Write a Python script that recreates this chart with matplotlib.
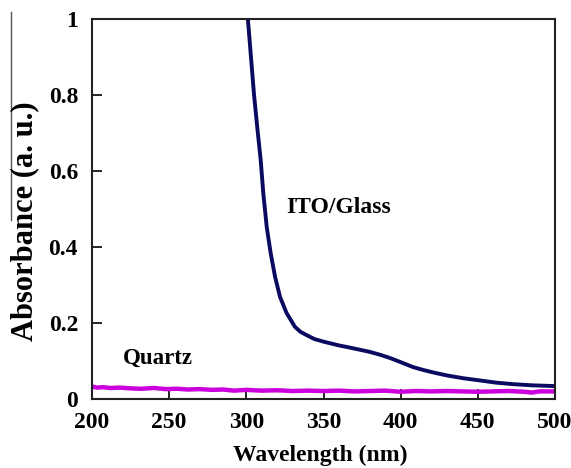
import matplotlib
matplotlib.use("Agg")
import matplotlib.pyplot as plt
from matplotlib.lines import Line2D

# ITO/Glass absorbance
ito_wl = [301, 303, 305, 307.2, 309.3, 311.0, 313.2, 315.8, 318.6, 321.8,
          326.1, 331.5, 335, 339.1, 344, 349.9, 355, 360, 365, 372, 380, 387,
          393, 400, 408, 415, 422, 430, 440, 451, 462, 473, 485, 500]
ito_abs = [1.0, 0.9, 0.8, 0.71, 0.629, 0.541, 0.453, 0.383, 0.322, 0.269,
           0.226, 0.190, 0.177, 0.168, 0.158, 0.151, 0.146, 0.141, 0.137,
           0.131, 0.124, 0.116, 0.108, 0.097, 0.084, 0.076, 0.069, 0.062,
           0.055, 0.049, 0.043, 0.039, 0.036, 0.034]

# Quartz absorbance
q_wl = [200, 203, 207, 212, 218, 225, 232, 240, 248, 255, 262, 270, 278, 285,
        292, 300, 310, 320, 330, 340, 350, 360, 370, 380, 390, 400, 410, 420,
        430, 440, 450, 460, 470, 480, 485, 490, 500]
q_abs = [0.033, 0.030, 0.031, 0.029, 0.030, 0.028, 0.027, 0.029, 0.026, 0.027,
         0.025, 0.026, 0.024, 0.025, 0.022, 0.024, 0.022, 0.023, 0.021, 0.022,
         0.021, 0.022, 0.020, 0.021, 0.022, 0.019, 0.021, 0.020, 0.021, 0.020,
         0.019, 0.020, 0.021, 0.019, 0.017, 0.020, 0.020]

xticks = [200, 250, 300, 350, 400, 450, 500]
yticks = [0, 0.2, 0.4, 0.6, 0.8, 1]
ytick_labels = ["0", "0.2", "0.4", "0.6", "0.8", "1"]

plt.rcParams['font.family'] = ['Liberation Serif', 'DejaVu Serif']
plt.rcParams['font.weight'] = 'bold'

W, H = 571, 468
fig = plt.figure(figsize=(W / 100, H / 100), dpi=100)
ax = fig.add_axes([92/W, 1 - 399/H, (555-92)/W, (399-19)/H])

ax.plot(q_wl, q_abs, color='#cc00dd', lw=3.2, solid_joinstyle='round')
ax.plot(ito_wl, ito_abs, color='#0a0a60', lw=2.8, solid_joinstyle='round')

ax.set_xlim(200, 500)
ax.set_ylim(0, 1)
ax.set_xticks(xticks)
ax.set_yticks(yticks)
ax.set_yticklabels(ytick_labels)
ax.tick_params(direction='in', length=7, width=1.2, labelsize=17)
ax.tick_params(axis='y', pad=10)
ax.tick_params(axis='x', pad=9)
for lab in ax.get_xticklabels() + ax.get_yticklabels():
    lab.set_fontweight('bold')
for s in ax.spines.values():
    s.set_linewidth(1.5)
    s.set_color('#222222')

fig.text(320/W, 1 - 455/H, "Wavelength (nm)", fontsize=17, fontweight='bold',
         ha='center', va='center')
fig.text(25/W, 1 - 221/H, "Absorbance (a. u.)", fontsize=22, fontweight='bold',
         ha='center', va='center', rotation=90)

ax.text(326, 0.505, "ITO/Glass", fontsize=17, fontweight='bold', va='center', ha='left')
ax.text(220, 0.108, "Quartz", fontsize=16.5, fontweight='bold', va='center', ha='left')

fig.add_artist(Line2D([11/W, 11/W], [1 - 12/H, 1 - 220/H],
                      color='#555555', lw=1.0, transform=fig.transFigure))

fig.savefig("out.png", dpi=100)
